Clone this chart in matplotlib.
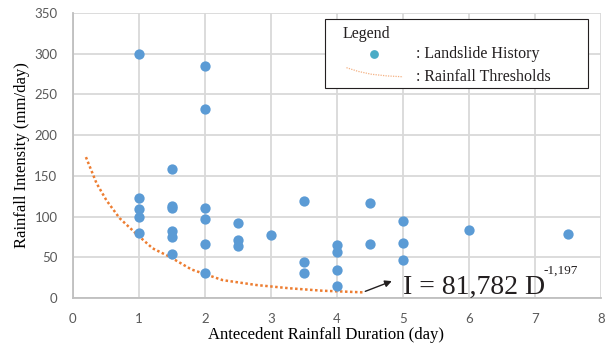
import matplotlib.pyplot as plt
from matplotlib.patches import Rectangle

# landslide events: antecedent duration (day) and intensity (mm/day)
duration = [1, 1, 1, 1, 1,
            1.5, 1.5, 1.5, 1.5, 1.5, 1.5,
            2, 2, 2, 2, 2, 2,
            2.5, 2.5, 2.5,
            3,
            3.5, 3.5, 3.5,
            4, 4, 4, 4,
            4.5, 4.5,
            5, 5, 5,
            6, 7.5]
intensity = [300, 123, 109, 99, 80,
             159, 113, 110, 82, 75, 54,
             285, 232, 111, 97, 66, 31,
             92, 71, 64,
             78,
             119, 44, 31,
             65, 56, 34, 15,
             117, 66,
             94, 67, 47,
             83, 79]

# threshold curve
thr_d = [0.2, 0.36, 0.51, 0.71, 0.96, 1.21, 1.46, 1.8, 2.27, 2.78, 3.28, 3.78, 4.39]
thr_i = [173, 141, 120, 98, 79, 61, 51, 35, 22, 16, 12, 9, 7]

serif = "Liberation Serif"
tick_col = "#595959"
grid_col = "#D9D9D9"

fig = plt.figure(figsize=(6.06, 3.49), dpi=100)
ax = fig.add_axes([0.12, 0.146, 0.872, 0.817])

ax.plot(thr_d, thr_i, color="#ED7D31", lw=1.8, linestyle=(0, (1, 1)), zorder=2)
ax.scatter(duration, intensity, s=55, color="#5B9BD5", zorder=3, linewidths=0)

ax.set_xlim(0, 8)
ax.set_ylim(0, 350)
ax.set_xticks(range(0, 9))
ax.set_yticks(range(0, 351, 50))
ax.grid(True, color=grid_col, lw=1.3)
ax.set_axisbelow(True)
for s in ["top", "right"]:
    ax.spines[s].set_visible(False)
for s in ["left", "bottom"]:
    ax.spines[s].set_color("#BFBFBF")
    ax.spines[s].set_linewidth(1.3)
ax.tick_params(length=0, pad=11, labelsize=9.5, labelcolor=tick_col)
for lab in ax.get_xticklabels() + ax.get_yticklabels():
    lab.set_fontfamily("Lato")

ax.set_xlabel("Antecedent Rainfall Duration (day)", family=serif, fontsize=12)
ax.set_ylabel("Rainfall Intensity (mm/day)", family=serif, fontsize=12, labelpad=3)
ax.xaxis.set_label_coords(0.48, -0.1)

# equation with arrow
ax.annotate("", xy=(4.87, 22), xytext=(4.39, 7),
            arrowprops=dict(arrowstyle="-|>", color="#231F20", lw=1, mutation_scale=10))
ax.text(5.0, 5, "I = 81,782 D", family=serif, fontsize=20, color="#231F20", va="baseline")
ax.text(7.12, 30, "-1,197", family=serif, fontsize=9.5, color="#231F20", va="baseline")

# hand made legend box
ax.add_patch(Rectangle((0.478, 0.737), 0.497, 0.241, transform=ax.transAxes,
                       facecolor="white", edgecolor="#231F20", lw=0.8, zorder=5))
ax.text(0.51, 0.925, "Legend", transform=ax.transAxes, family=serif, fontsize=11.5,
        color="#231F20", va="center", zorder=6)
ax.scatter([0.571], [0.857], s=40, color="#4BACC6", transform=ax.transAxes,
           zorder=6, linewidths=0, clip_on=False)
ax.text(0.65, 0.857, ": Landslide History", transform=ax.transAxes, family=serif,
        fontsize=11.5, color="#231F20", va="center", zorder=6)
leg_x = [0.518, 0.54, 0.565, 0.595, 0.625]
leg_y = [0.808, 0.795, 0.785, 0.779, 0.776]
ax.plot(leg_x, leg_y, transform=ax.transAxes, color="#F4B183", lw=0.9,
        linestyle=(0, (1, 1)), zorder=6)
ax.text(0.65, 0.776, ": Rainfall Thresholds", transform=ax.transAxes, family=serif,
        fontsize=11.5, color="#231F20", va="center", zorder=6)

fig.savefig("out.png", dpi=100)
